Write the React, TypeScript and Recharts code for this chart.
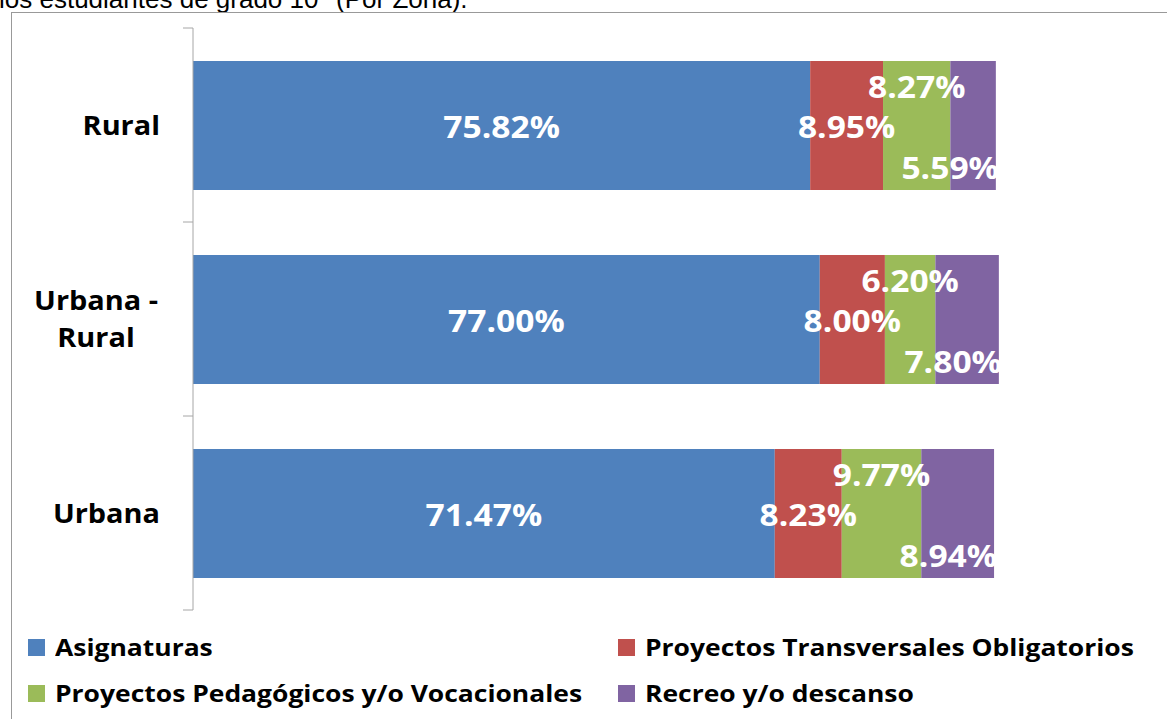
import { Bar, BarChart, LabelList, XAxis, YAxis } from "recharts";

const zonas = ["Rural", "Urbana - Rural", "Urbana"];
const zonaLines = [["Rural"], ["Urbana -", "Rural"], ["Urbana"]];
const asignaturas = [75.82, 77.0, 71.47];
const transversales = [8.95, 8.0, 8.23];
const pedagogicos = [8.27, 6.2, 9.77];
const recreo = [5.59, 7.8, 8.94];

const seriesNames = [
  "Asignaturas",
  "Proyectos Transversales Obligatorios",
  "Proyectos Pedagógicos y/o Vocacionales",
  "Recreo y/o descanso",
];
const seriesKeys = ["asignaturas", "transversales", "pedagogicos", "recreo"];
const colors = ["#4F81BD", "#C0504D", "#9BBB59", "#8064A2"];

const data = zonas.map((zona, i) => ({
  zona,
  asignaturas: asignaturas[i],
  transversales: transversales[i],
  pedagogicos: pedagogicos[i],
  recreo: recreo[i],
}));

const W = 1167;
const H = 719;
const MARGIN = { top: 28, right: 160, bottom: 109, left: 0 };
const BAND = (H - MARGIN.top - MARGIN.bottom) / zonas.length;
const FONT = "'Open Sans', 'Noto Sans', sans-serif";
// the original picture is stretched a little horizontally
const STRETCH_TICK = 1.07;
const STRETCH_LABEL = 1.12;
const STRETCH_LEGEND = 1.15;

function CategoryTick(props: any) {
  const { x, y, index } = props;
  const lines = zonaLines[index] ?? [String(props.payload?.value)];
  const last = index === zonas.length - 1;
  const single = lines.length === 1;
  return (
    <g>
      <line x1={x - 10} x2={x} y1={y - BAND / 2} y2={y - BAND / 2} stroke="#a6a6a6" />
      {last && <line x1={x - 10} x2={x} y1={y + BAND / 2} y2={y + BAND / 2} stroke="#a6a6a6" />}
      {lines.map((l, k) => (
        <g
          key={k}
          transform={`translate(${single ? x - 33 : x - 97},${y + (k - (lines.length - 1) / 2) * 37}) scale(${STRETCH_TICK},1)`}
        >
          <text
            x={0}
            y={0}
            dy="0.36em"
            textAnchor={single ? "end" : "middle"}
            fontFamily={FONT}
            fontWeight={700}
            fontSize={27}
            fill="#000"
          >
            {l}
          </text>
        </g>
      ))}
    </g>
  );
}

// mode: where the value sits inside its segment
function makeLabel(mode: "center" | "up" | "down") {
  return (props: any) => {
    const { x, y, width, height, value } = props;
    const cy = y + height / 2 + (mode === "up" ? -38 : mode === "down" ? 43 : 2);
    const anchor = mode === "down" ? "end" : "middle";
    const tx = mode === "down" ? x + width + 3 : x + width / 2;
    return (
      <g transform={`translate(${tx},${cy}) scale(${STRETCH_LABEL},1)`}>
        <text x={0} y={0} dy="0.36em" textAnchor={anchor} fontFamily={FONT} fontWeight={700} fontSize={30} fill="#fff">
          {`${Number(value).toFixed(2)}%`}
        </text>
      </g>
    );
  };
}

const labelModes: ("center" | "up" | "down")[] = ["center", "center", "up", "down"];

export default function App() {
  return (
    <div style={{ position: "absolute", left: 0, top: 0, width: W, height: H, overflow: "hidden", background: "#fff" }}>
      <div
        style={{
          position: "absolute",
          left: -1,
          top: -15,
          fontFamily: "'Liberation Sans', Arial, sans-serif",
          fontSize: 26,
          lineHeight: "28px",
          whiteSpace: "nowrap",
          color: "#000",
        }}
      >
        los estudiantes de grado 10° (Por Zona).
      </div>
      <div
        style={{
          position: "absolute",
          left: 11,
          top: 12,
          width: W,
          height: H,
          borderLeft: "1px solid #999",
          borderTop: "1px solid #999",
        }}
      />
      <BarChart
        width={W}
        height={H}
        data={data}
        layout="vertical"
        margin={MARGIN}
        barSize={129}
        style={{ position: "absolute", left: 0, top: 0 }}
      >
        <XAxis type="number" domain={[0, 100]} hide />
        <YAxis
          type="category"
          dataKey="zona"
          width={193}
          tickSize={0}
          tickMargin={0}
          interval={0}
          axisLine={{ stroke: "#a6a6a6" }}
          tickLine={false}
          tick={(p: any) => <CategoryTick {...p} />}
        />
        {seriesKeys.map((k, i) => (
          <Bar key={k} dataKey={k} name={seriesNames[i]} stackId="a" fill={colors[i]} isAnimationActive={false}>
            <LabelList dataKey={k} content={makeLabel(labelModes[i])} />
          </Bar>
        ))}
      </BarChart>
      <div
        style={{
          position: "absolute",
          left: 28,
          top: 633,
          width: 1130,
          display: "grid",
          gridTemplateColumns: "590px 540px",
          rowGap: 18,
          fontFamily: FONT,
          fontWeight: 700,
          fontSize: 23,
          color: "#000",
        }}
      >
        {seriesNames.map((n, i) => (
          <div key={n} style={{ display: "flex", alignItems: "center", height: 28, whiteSpace: "nowrap" }}>
            <span style={{ display: "inline-block", width: 17, height: 17, background: colors[i], marginRight: 10 }} />
            <span style={{ display: "inline-block", transform: `scaleX(${STRETCH_LEGEND})`, transformOrigin: "left center" }}>
              {n}
            </span>
          </div>
        ))}
      </div>
    </div>
  );
}
